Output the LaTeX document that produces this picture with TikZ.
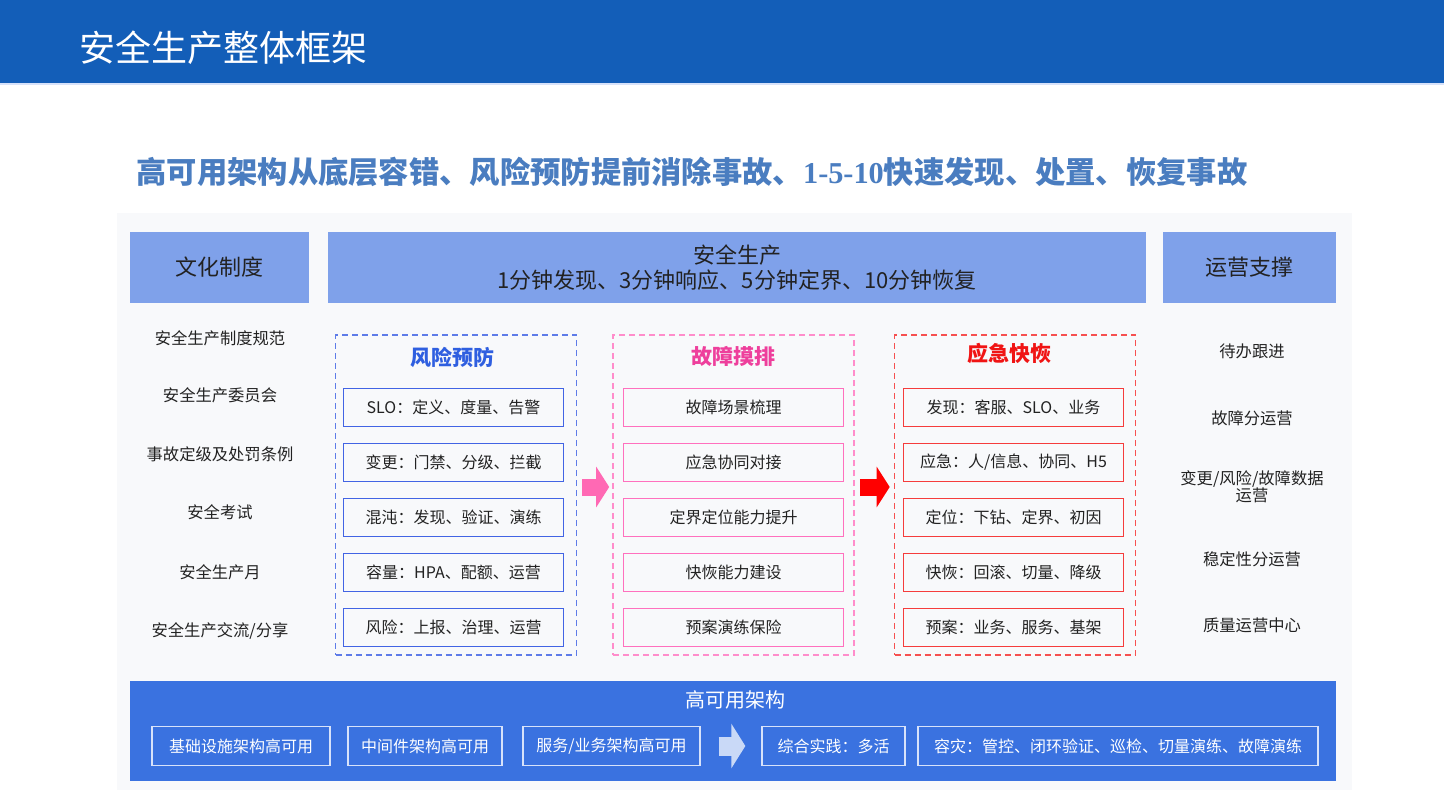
\documentclass[tikz,border=0pt]{standalone}
\usepackage{fontspec}
\setmainfont{Noto Sans CJK SC}
\newfontfamily\numserif{Liberation Serif}
\usetikzlibrary{arrows.meta}
\definecolor{barblue}{RGB}{19,94,184}
\definecolor{hdrblue}{RGB}{127,161,234}
\definecolor{basblue}{RGB}{58,114,224}
\definecolor{headline}{RGB}{74,125,192}
\definecolor{panelgrey}{RGB}{248,249,251}
\definecolor{textdark}{RGB}{34,34,34}
\definecolor{riskblue}{RGB}{66,100,228}
\definecolor{risktitle}{RGB}{47,95,224}
\definecolor{faultpink}{RGB}{255,112,190}
\definecolor{faulttitle}{RGB}{238,63,156}
\definecolor{recred}{RGB}{245,60,60}
\definecolor{rectitle}{RGB}{240,20,20}
\definecolor{arrowpink}{RGB}{255,105,180}
\definecolor{lightarrow}{RGB}{201,217,247}
\definecolor{boxline}{RGB}{215,226,250}

\begin{document}
\begin{tikzpicture}[x=1pt, y=-1pt,
  every node/.style={inner sep=0pt, text=textdark},
  hdrbox/.style={fill=hdrblue, minimum height=71pt, align=center, font=\fontsize{22}{26}\selectfont},
  sidetext/.style={align=center, font=\fontsize{16.3}{17}\selectfont},
  group/.style={draw, line width=1.6pt, dash pattern=on 6pt off 4pt, minimum width=241pt, minimum height=320pt},
  grouptitle/.style={font=\fontsize{21}{24}\selectfont\bfseries},
  item/.style={draw, line width=1.8pt, minimum width=220pt, minimum height=38pt, font=\fontsize{16}{18}\selectfont},
  basebox/.style={draw=boxline, line width=1.3pt, minimum height=39pt, text=white, font=\fontsize{16}{18}\selectfont},
  blockarrow/.style={line width=17pt, -{Triangle[length=13pt, width=40pt]}}
]
\useasboundingbox (0,0) rectangle (1444,807);
\fill[white] (0,0) rectangle (1444,807);
% title bar
\fill[barblue] (0,0) rectangle (1444,83);
\draw[boxline, line width=2pt] (0,84) -- (1444,84);
\node[anchor=west, text=white, font=\fontsize{36}{40}\selectfont] (title) at (79,48) {安全生产整体框架};
\node[text=headline, font=\fontsize{30.3}{34}\selectfont\bfseries] (headline) at (692,172)
  {高可用架构从底层容错、风险预防提前消除事故、{\numserif 1-5-10}快速发现、处置、恢复事故};
\fill[panelgrey] (117,213) rectangle (1352,790);

% header row
\node[hdrbox, minimum width=179pt] (culture) at (219,267.5) {文化制度};
\node[hdrbox, minimum width=818pt] (safety) at (737,267.5) {};
\node[font=\fontsize{22}{26}\selectfont] (safetyname) at (737,255) {安全生产};
\node[font=\fontsize{22}{26}\selectfont] (safetygoal) at (737,280) {1分钟发现、3分钟响应、5分钟定界、10分钟恢复};
\node[hdrbox, minimum width=173pt] (ops) at (1249.5,267.5) {运营支撑};

% left column
\node[sidetext] (c1) at (220,338) {安全生产制度规范};
\node[sidetext] (c2) at (220,395) {安全生产委员会};
\node[sidetext] (c3) at (220,454) {事故定级及处罚条例};
\node[sidetext] (c4) at (220,512) {安全考试};
\node[sidetext] (c5) at (220,572) {安全生产月};
\node[sidetext] (c6) at (220,631) {安全生产交流/分享};

% right column
\node[sidetext] (o1) at (1252,351) {待办跟进};
\node[sidetext] (o2) at (1252,418) {故障分运营};
\node[sidetext] (o3) at (1252,487) {变更/风险/故障数据\\运营};
\node[sidetext] (o4) at (1252,559) {稳定性分运营};
\node[sidetext] (o5) at (1252,625) {质量运营中心};

% risk prevention
\node[group, draw=riskblue!85] (risk) at (456,495) {};
\node[grouptitle, text=risktitle] (risktitle) at (452,357) {风险预防};
\node[item, draw=riskblue] (r1) at (453.5,407.5) {SLO：定义、度量、告警};
\node[item, draw=riskblue] (r2) at (453.5,462.5) {变更：门禁、分级、拦截};
\node[item, draw=riskblue] (r3) at (453.5,517.5) {混沌：发现、验证、演练};
\node[item, draw=riskblue] (r4) at (453.5,572.5) {容量：HPA、配额、运营};
\node[item, draw=riskblue] (r5) at (453.5,627.5) {风险：上报、治理、运营};

% fault drill
\node[group, draw=faultpink!80] (fault) at (733.5,495) {};
\node[grouptitle, text=faulttitle] (faulttitle) at (733,356) {故障摸排};
\node[item, draw=faultpink] (f1) at (733.5,407.5) {故障场景梳理};
\node[item, draw=faultpink] (f2) at (733.5,462.5) {应急协同对接};
\node[item, draw=faultpink] (f3) at (733.5,517.5) {定界定位能力提升};
\node[item, draw=faultpink] (f4) at (733.5,572.5) {快恢能力建设};
\node[item, draw=faultpink] (f5) at (733.5,627.5) {预案演练保险};

% emergency recovery
\node[group, draw=recred!90] (recover) at (1015,495) {};
\node[grouptitle, text=rectitle] (rectitle) at (1009,353) {应急快恢};
\node[item, draw=recred] (e1) at (1013.5,407.5) {发现：客服、SLO、业务};
\node[item, draw=recred] (e2) at (1013.5,462.5) {应急：人/信息、协同、H5};
\node[item, draw=recred] (e3) at (1013.5,517.5) {定位：下钻、定界、初因};
\node[item, draw=recred] (e4) at (1013.5,572.5) {快恢：回滚、切量、降级};
\node[item, draw=recred] (e5) at (1013.5,627.5) {预案：业务、服务、基架};

\draw[blockarrow, draw=arrowpink, shorten <=5pt, shorten >=3pt] ([yshift=8pt]risk.east) -- ([yshift=8pt]fault.west);
\draw[blockarrow, draw=red, shorten <=5pt, shorten >=4pt] ([yshift=8pt]fault.east) -- ([yshift=8pt]recover.west);

% high availability base
\node[fill=basblue, minimum width=1206pt, minimum height=100pt] (base) at (733,731) {};
\node[text=white, font=\fontsize{20}{24}\selectfont] (basetitle) at (735,700) {高可用架构};
\node[basebox, minimum width=178pt] (b1) at (241,746) {基础设施架构高可用};
\node[basebox, minimum width=154pt] (b2) at (425,746) {中间件架构高可用};
\node[basebox, minimum width=177pt] (b3) at (611.5,746) {服务/业务架构高可用};
\node[basebox, minimum width=143pt] (b4) at (833.5,746) {综合实践：多活};
\node[basebox, minimum width=400pt] (b5) at (1118,746) {容灾：管控、闭环验证、巡检、切量演练、故障演练};
\draw[line width=19pt, draw=lightarrow, -{Triangle[length=14pt, width=44pt]}, shorten <=18pt, shorten >=16pt] (b3.east) -- (b4.west);
\end{tikzpicture}
\end{document}
